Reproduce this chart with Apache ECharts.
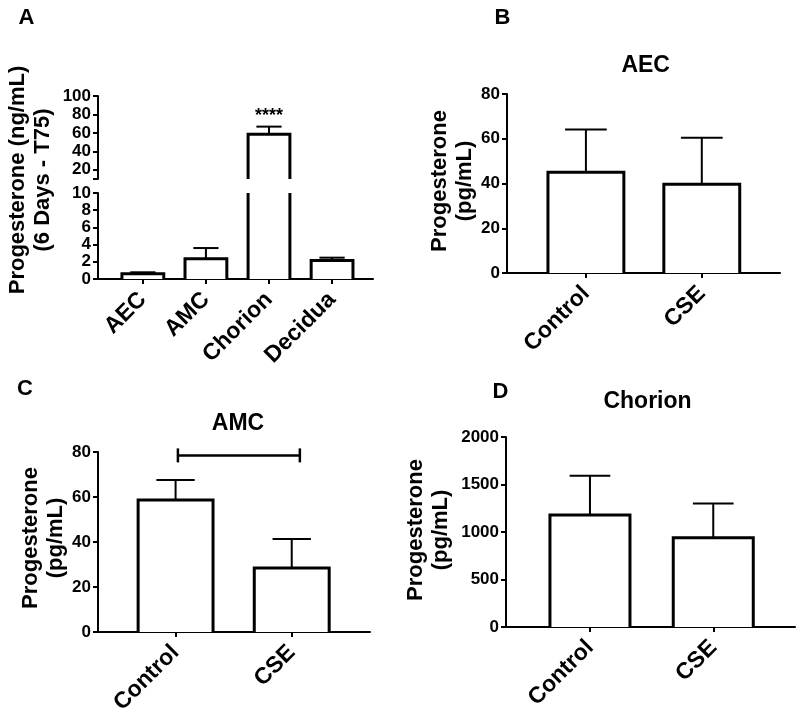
<!DOCTYPE html>
<html>
<head>
<meta charset="utf-8">
<script src="https://cdn.jsdelivr.net/npm/echarts@6/dist/echarts.min.js"></script>
<style>html,body{margin:0;padding:0;background:#fff}#c{width:800px;height:719px}</style>
</head>
<body>
<div id="c"></div>
<script>
const FONT = '"Liberation Sans", Arial, Helvetica, sans-serif';

// ---- Panel A data ----
const catsA = ['AEC', 'AMC', 'Chorion', 'Decidua'];
const meanA = [0.6, 2.35, 58.6, 2.15];
const semA = [0.18, 1.25, 8.2, 0.33];
const sigA = ['', '', '****', ''];
const ticksAUpperLabels = [20, 40, 60, 80, 100];
const ticksAUpperTicks = [10, 20, 40, 60, 80, 100];

// ---- Panels B, C, D ----
const groups = ['Control', 'CSE'];
const meanB = [45.0, 39.7];
const semB = [19.1, 20.8];
const meanC = [58.7, 28.4];
const semC = [8.9, 12.9];
const bracketC = [[0.02, 1.07, 78.5]];
const meanD = [1179, 940];
const semD = [412, 359];

const chart = echarts.init(document.getElementById('c'), null, {renderer: 'canvas', devicePixelRatio: 1});

function xAxisCfg(gridIndex, min, max, cats, show) {
  const idx = cats.map((_, i) => i);
  return {
    type: 'value', gridIndex, min, max, show,
    axisLine: {show: true, onZero: false, lineStyle: {color: '#000', width: 2}},
    axisTick: {show: true, customValues: idx, length: 5, lineStyle: {color: '#000', width: 2}},
    axisLabel: {show: true, customValues: idx, formatter: v => cats[Math.round(v)] || '',
      rotate: 45, margin: 17, color: '#000', fontSize: 23, fontWeight: 'bold', fontFamily: FONT},
    splitLine: {show: false}
  };
}
function yAxisCfg(gridIndex, min, max, extra) {
  return Object.assign({
    type: 'value', gridIndex, min, max,
    axisLine: {show: true, onZero: false, lineStyle: {color: '#000', width: 2}},
    axisTick: {show: true, length: 5, lineStyle: {color: '#000', width: 2}},
    axisLabel: {margin: 7, color: '#000', fontSize: 17, fontWeight: 'bold', fontFamily: FONT,
      formatter: v => String(v)},
    splitLine: {show: false}
  }, extra || {});
}

function barSeries(xi, yi, means, sems, cfg) {
  return {
    type: 'custom', xAxisIndex: xi, yAxisIndex: yi, clip: false, silent: true,
    data: means.map((m, i) => [i, m, sems[i]]),
    encode: {x: 0, y: 1},
    renderItem: (params, api) => {
      const x = api.value(0), m = api.value(1), e = api.value(2);
      const children = [];
      if (m <= cfg.min) return {type: 'group', children};
      const base = Math.max(0, cfg.min), top = Math.min(m, cfg.max), hw = cfg.w / 2;
      const bl = api.coord([x - hw, base]), tl = api.coord([x - hw, top]);
      const tr = api.coord([x + hw, top]), br = api.coord([x + hw, base]);
      const st = {stroke: '#000', lineWidth: 3, fill: 'none'};
      children.push({type: 'rect', shape: {x: tl[0], y: tl[1], width: tr[0] - tl[0], height: bl[1] - tl[1]}, style: {fill: '#fff'}});
      if (m <= cfg.max) {
        const c0 = api.coord([x, m]), c1 = api.coord([x, m + e]);
        const cl = api.coord([x - cfg.cap / 2, m + e]), cr = api.coord([x + cfg.cap / 2, m + e]);
        children.push({type: 'line', shape: {x1: c0[0], y1: c0[1], x2: c1[0], y2: c1[1]}, style: {stroke: '#000', lineWidth: 2}});
        children.push({type: 'line', shape: {x1: cl[0], y1: cl[1], x2: cr[0], y2: cr[1]}, style: {stroke: '#000', lineWidth: 2}});
        children.push({type: 'polyline', shape: {points: [bl, tl, tr, br]}, style: st});
        if (cfg.sig && cfg.sig[params.dataIndex]) {
          children.push({type: 'text', x: c1[0], y: c1[1] - 2,
            style: {text: cfg.sig[params.dataIndex], align: 'center', verticalAlign: 'bottom',
              font: 'bold 18px ' + FONT, fill: '#000'}});
        }
      } else {
        children.push({type: 'line', shape: {x1: bl[0], y1: bl[1], x2: tl[0], y2: tl[1]}, style: st});
        children.push({type: 'line', shape: {x1: br[0], y1: br[1], x2: tr[0], y2: tr[1]}, style: st});
      }
      return {type: 'group', children};
    }
  };
}

function bracketSeries(xi, yi, data) {
  return {
    type: 'custom', xAxisIndex: xi, yAxisIndex: yi, clip: false, silent: true,
    data: data, encode: {x: [0, 1], y: 2},
    renderItem: (params, api) => {
      const a = api.coord([api.value(0), api.value(2)]);
      const b = api.coord([api.value(1), api.value(2)]);
      const s = {stroke: '#000', lineWidth: 2.5};
      return {type: 'group', children: [
        {type: 'line', shape: {x1: a[0], y1: a[1], x2: b[0], y2: b[1]}, style: s},
        {type: 'line', shape: {x1: a[0], y1: a[1] - 7, x2: a[0], y2: a[1] + 7}, style: s},
        {type: 'line', shape: {x1: b[0], y1: b[1] - 7, x2: b[0], y2: b[1] + 7}, style: s}
      ]};
    }
  };
}

function txt(x, y, text, size, rot, lh) {
  return {type: 'text', x, y, rotation: rot || 0,
    style: {text, align: 'center', verticalAlign: 'middle', font: 'bold ' + size + 'px ' + FONT,
      fill: '#000', lineHeight: lh || size}};
}
const R = Math.PI / 2;

const option = {
  backgroundColor: '#fff',
  animation: false,
  grid: [
    {left: 98, top: 96, width: 275, height: 83, outerBoundsMode: 'none'},   // A upper
    {left: 98, top: 193, width: 275, height: 86, outerBoundsMode: 'none'},  // A lower
    {left: 507, top: 94, width: 273, height: 179, outerBoundsMode: 'none'}, // B
    {left: 98, top: 452, width: 272, height: 180, outerBoundsMode: 'none'}, // C
    {left: 506, top: 437, width: 289, height: 190, outerBoundsMode: 'none'} // D
  ],
  xAxis: [
    xAxisCfg(0, -0.711, 3.649, catsA, false),
    xAxisCfg(1, -0.711, 3.649, catsA, true),
    xAxisCfg(2, -0.681, 1.675, groups, true),
    xAxisCfg(3, -0.668, 1.674, groups, true),
    xAxisCfg(4, -0.681, 1.663, groups, true)
  ],
  yAxis: [
    yAxisCfg(0, 10, 100, {
      axisTick: {show: true, customValues: ticksAUpperTicks, length: 5, lineStyle: {color: '#000', width: 2}},
      axisLabel: {customValues: ticksAUpperLabels, margin: 7, color: '#000', fontSize: 17, fontWeight: 'bold', fontFamily: FONT}
    }),
    yAxisCfg(1, 0, 10, {interval: 2}),
    yAxisCfg(2, 0, 80, {interval: 20}),
    yAxisCfg(3, 0, 80, {interval: 20}),
    yAxisCfg(4, 0, 2000, {interval: 500})
  ],
  series: [
    barSeries(0, 0, meanA, semA, {min: 10, max: 100, w: 0.663, cap: 0.4, sig: sigA}),
    barSeries(1, 1, meanA, semA, {min: 0, max: 10, w: 0.663, cap: 0.4}),
    barSeries(2, 2, meanB, semB, {min: 0, max: 80, w: 0.655, cap: 0.36}),
    barSeries(3, 3, meanC, semC, {min: 0, max: 80, w: 0.645, cap: 0.33}),
    bracketSeries(3, 3, bracketC),
    barSeries(4, 4, meanD, semD, {min: 0, max: 2000, w: 0.649, cap: 0.33})
  ],
  graphic: [
    txt(26.5, 17.5, 'A', 22),
    txt(502.5, 17.5, 'B', 22),
    txt(25, 389, 'C', 22),
    txt(500.5, 391.5, 'D', 22),
    txt(645.7, 65.5, 'AEC', 23),
    txt(238, 423.5, 'AMC', 23),
    txt(647.5, 401.5, 'Chorion', 23),
    txt(30, 180, 'Progesterone (ng/mL)\n(6 Days - T75)', 22, R, 25),
    txt(452, 181, 'Progesterone\n(pg/mL)', 22, R, 25),
    txt(43, 538, 'Progesterone\n(pg/mL)', 22, R, 25),
    txt(428, 530, 'Progesterone\n(pg/mL)', 22, R, 25)
  ]
};
chart.setOption(option);
</script>
</body>
</html>
